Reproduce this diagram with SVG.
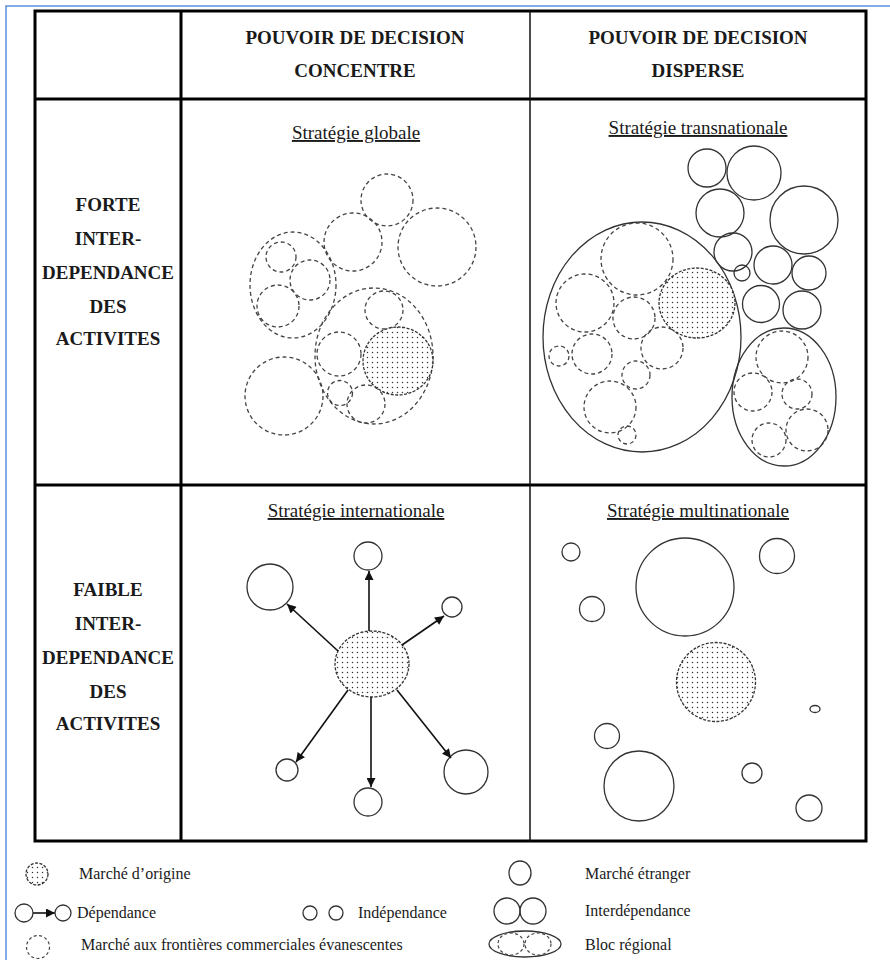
<svg xmlns="http://www.w3.org/2000/svg" width="890" height="960" viewBox="0 0 890 960" font-family="'Liberation Serif', 'Times New Roman', 'DejaVu Serif', serif">
<style>
  text { font-family: 'Liberation Serif', 'Times New Roman', 'DejaVu Serif', serif; }
  .hdr { font-weight: bold; font-size: 19px; fill: #1a1a1a; text-anchor: middle; }
  .sub { font-size: 19px; fill: #1a1a1a; text-anchor: middle; text-decoration: underline; }
  .leg { font-size: 16px; fill: #1a1a1a; }
  .grid { stroke: #000; stroke-width: 3; fill: none; }
  .thin { stroke: #111; stroke-width: 1.5; fill: none; }
  .dash { fill: none; stroke: #444; stroke-width: 1.3; stroke-dasharray: 4 3; }
  .ldash { fill: none; stroke: #444; stroke-width: 1.2; stroke-dasharray: 3 2.5; }
  .solid { fill: none; stroke: #333; stroke-width: 1.3; }
  .origin { fill: url(#dots); stroke: #333; stroke-width: 1.3; stroke-dasharray: 3 1.5; }
  .arrow { stroke: #111; stroke-width: 1.6; fill: none; marker-end: url(#head); }
</style>
<defs>
  <pattern id="dots" width="5" height="5" patternUnits="userSpaceOnUse">
    <rect width="5" height="5" fill="#fff"/>
    <circle cx="2.5" cy="2.5" r="0.75" fill="#333"/>
  </pattern>
  <marker id="head" viewBox="0 0 10 10" refX="10" refY="5" markerUnits="userSpaceOnUse" markerWidth="11" markerHeight="9" orient="auto">
    <path d="M0,0 L10,5 L0,10 z" fill="#111"/>
  </marker>
</defs>

<rect width="890" height="960" fill="#fff"/>
<!-- blue frame -->
<path d="M6,960 L6,6 L890,6" fill="none" stroke="#5b8ddf" stroke-width="1.5"/>

<!-- table -->
<g id="table">
  <rect class="grid" x="35" y="11" width="831" height="830"/>
  <line class="grid" x1="35" y1="99" x2="866" y2="99"/>
  <line class="grid" x1="35" y1="485" x2="866" y2="485"/>
  <line class="grid" x1="181" y1="11" x2="181" y2="841"/>
  <line class="thin" x1="530" y1="11" x2="530" y2="841"/>
</g>

<g id="headers">
  <text class="hdr" x="355" y="44">POUVOIR DE DECISION</text>
  <text class="hdr" x="355" y="77">CONCENTRE</text>
  <text class="hdr" x="698" y="44">POUVOIR DE DECISION</text>
  <text class="hdr" x="698" y="77">DISPERSE</text>
  <text class="hdr" x="108" y="211">FORTE</text>
  <text class="hdr" x="108" y="245">INTER-</text>
  <text class="hdr" x="108" y="279">DEPENDANCE</text>
  <text class="hdr" x="108" y="313">DES</text>
  <text class="hdr" x="108" y="345">ACTIVITES</text>
  <text class="hdr" x="108" y="596">FAIBLE</text>
  <text class="hdr" x="108" y="630">INTER-</text>
  <text class="hdr" x="108" y="664">DEPENDANCE</text>
  <text class="hdr" x="108" y="698">DES</text>
  <text class="hdr" x="108" y="730">ACTIVITES</text>
</g>

<!-- Strategie globale -->
<g id="globale">
  <text class="sub" x="356" y="139">Stratégie globale</text>
  <g id="g-top"><circle class="dash" cx="387" cy="200" r="26"/></g>
  <g id="g-right"><circle class="dash" cx="437" cy="247" r="39"/></g>
  <g id="g-mid"><circle class="dash" cx="353" cy="242" r="29"/></g>
  <g id="g-bloc1">
    <ellipse class="dash" cx="293" cy="285" rx="43" ry="53"/>
    <circle class="dash" cx="281" cy="257" r="15"/>
    <circle class="dash" cx="310" cy="280" r="20"/>
    <circle class="dash" cx="278" cy="306" r="21"/>
  </g>
  <g id="g-bloc2">
    <ellipse class="dash" cx="374" cy="356" rx="59" ry="68"/>
    <circle class="dash" cx="384" cy="310" r="19"/>
    <circle class="dash" cx="339" cy="354" r="22"/>
    <circle class="dash" cx="340" cy="393" r="12.5"/>
    <circle class="dash" cx="366" cy="404" r="19"/>
    <ellipse class="origin" cx="398" cy="361" rx="35" ry="34"/>
  </g>
  <g id="g-bottom"><circle class="dash" cx="284" cy="396" r="39"/></g>
</g>

<!-- Strategie transnationale -->
<g id="transnationale">
  <text class="sub" x="698" y="134">Stratégie transnationale</text>
  <g id="t-foreign">
    <circle class="solid" cx="707" cy="168" r="19"/>
    <circle class="solid" cx="754" cy="173" r="27"/>
    <circle class="solid" cx="720" cy="213" r="24"/>
    <circle class="solid" cx="804" cy="220" r="34"/>
    <circle class="solid" cx="733" cy="252" r="19"/>
    <circle class="solid" cx="742" cy="273" r="8"/>
    <circle class="solid" cx="773" cy="265" r="19"/>
    <circle class="solid" cx="809" cy="273" r="17"/>
    <circle class="solid" cx="761" cy="304" r="18.5"/>
    <circle class="solid" cx="802" cy="310" r="19"/>
  </g>
  <g id="t-bloc1">
    <ellipse class="solid" cx="642" cy="337" rx="99" ry="115"/>
    <circle class="dash" cx="637" cy="259" r="36"/>
    <circle class="dash" cx="585" cy="303" r="29"/>
    <circle class="dash" cx="634" cy="318" r="21"/>
    <circle class="dash" cx="592" cy="354" r="20"/>
    <circle class="dash" cx="662" cy="348" r="21"/>
    <circle class="dash" cx="559" cy="356" r="10"/>
    <circle class="dash" cx="636" cy="375" r="14"/>
    <circle class="dash" cx="610" cy="407" r="26"/>
    <circle class="dash" cx="627" cy="435" r="9"/>
    <ellipse class="origin" cx="697" cy="303" rx="38" ry="35"/>
  </g>
  <g id="t-bloc2">
    <ellipse class="solid" cx="784" cy="397" rx="52" ry="69"/>
    <circle class="dash" cx="782" cy="357" r="26"/>
    <circle class="dash" cx="753" cy="392" r="19"/>
    <circle class="dash" cx="797" cy="394" r="15"/>
    <circle class="dash" cx="769" cy="440" r="17"/>
    <circle class="dash" cx="807" cy="430" r="21"/>
  </g>
</g>

<!-- Strategie internationale -->
<g id="internationale">
  <text class="sub" x="356" y="517">Stratégie internationale</text>
  <g id="i-origin"><ellipse class="origin" cx="372" cy="664" rx="37" ry="33"/></g>
  <g id="i-top"><circle class="solid" cx="368" cy="556" r="14"/></g>
  <g id="i-upleft"><circle class="solid" cx="270" cy="587" r="23"/></g>
  <g id="i-right"><circle class="solid" cx="452" cy="607" r="10"/></g>
  <g id="i-lowleft"><circle class="solid" cx="287" cy="770" r="11"/></g>
  <g id="i-bottom"><circle class="solid" cx="368" cy="802" r="14"/></g>
  <g id="i-lowright"><circle class="solid" cx="466" cy="772" r="22"/></g>
</g>

<g id="connectors">
  <line class="arrow" x1="369" y1="631" x2="369" y2="571"/>
  <line class="arrow" x1="338" y1="651" x2="287" y2="604"/>
  <line class="arrow" x1="402" y1="645" x2="444" y2="616"/>
  <line class="arrow" x1="348" y1="690" x2="296" y2="762"/>
  <line class="arrow" x1="371" y1="697" x2="371" y2="787"/>
  <line class="arrow" x1="397" y1="690" x2="451" y2="758"/>
  <line class="arrow" x1="33" y1="913" x2="55" y2="913"/>
</g>

<!-- Strategie multinationale -->
<g id="multinationale">
  <text class="sub" x="698" y="517">Stratégie multinationale</text>
  <g id="m-1"><circle class="solid" cx="571" cy="552" r="9"/></g>
  <g id="m-2"><circle class="solid" cx="685" cy="587" r="49"/></g>
  <g id="m-3"><circle class="solid" cx="777" cy="556" r="17.5"/></g>
  <g id="m-4"><circle class="solid" cx="592" cy="609" r="12.5"/></g>
  <g id="m-origin"><circle class="origin" cx="716" cy="682" r="39.5"/></g>
  <g id="m-5"><ellipse class="solid" cx="815" cy="709" rx="5" ry="3.5"/></g>
  <g id="m-6"><circle class="solid" cx="607" cy="736" r="12.5"/></g>
  <g id="m-7"><circle class="solid" cx="639" cy="786" r="35"/></g>
  <g id="m-8"><circle class="solid" cx="752" cy="773" r="10"/></g>
  <g id="m-9"><circle class="solid" cx="809" cy="808" r="13"/></g>
</g>

<!-- legend -->
<g id="legend">
  <g id="leg-origin">
    <ellipse class="origin" cx="37" cy="874" rx="11" ry="11"/>
    <text class="leg" x="79" y="879">Marché d’origine</text>
  </g>
  <g id="leg-dep">
    <circle class="solid" cx="24" cy="913" r="9"/>
    <circle class="solid" cx="63" cy="913" r="8"/>
    <text class="leg" x="77" y="918">Dépendance</text>
  </g>
  <g id="leg-evan">
    <circle class="ldash" cx="38" cy="947" r="11.5"/>
    <text class="leg" x="81" y="950">Marché aux frontières commerciales évanescentes</text>
  </g>
  <g id="leg-indep">
    <circle class="solid" cx="310" cy="913" r="7"/>
    <circle class="solid" cx="336" cy="913" r="7"/>
    <text class="leg" x="358" y="918">Indépendance</text>
  </g>
  <g id="leg-foreign">
    <ellipse class="solid" cx="520" cy="873" rx="11" ry="12"/>
    <text class="leg" x="585" y="879">Marché étranger</text>
  </g>
  <g id="leg-inter">
    <ellipse class="solid" cx="507" cy="911" rx="13" ry="13"/>
    <ellipse class="solid" cx="533" cy="911" rx="13" ry="13"/>
    <text class="leg" x="585" y="916">Interdépendance</text>
  </g>
  <g id="leg-bloc">
    <ellipse class="solid" cx="525" cy="944" rx="36" ry="13"/>
    <ellipse class="ldash" cx="511" cy="944" rx="13" ry="11"/>
    <ellipse class="ldash" cx="538" cy="944" rx="13" ry="11"/>
    <text class="leg" x="585" y="950">Bloc régional</text>
  </g>
</g>
</svg>
